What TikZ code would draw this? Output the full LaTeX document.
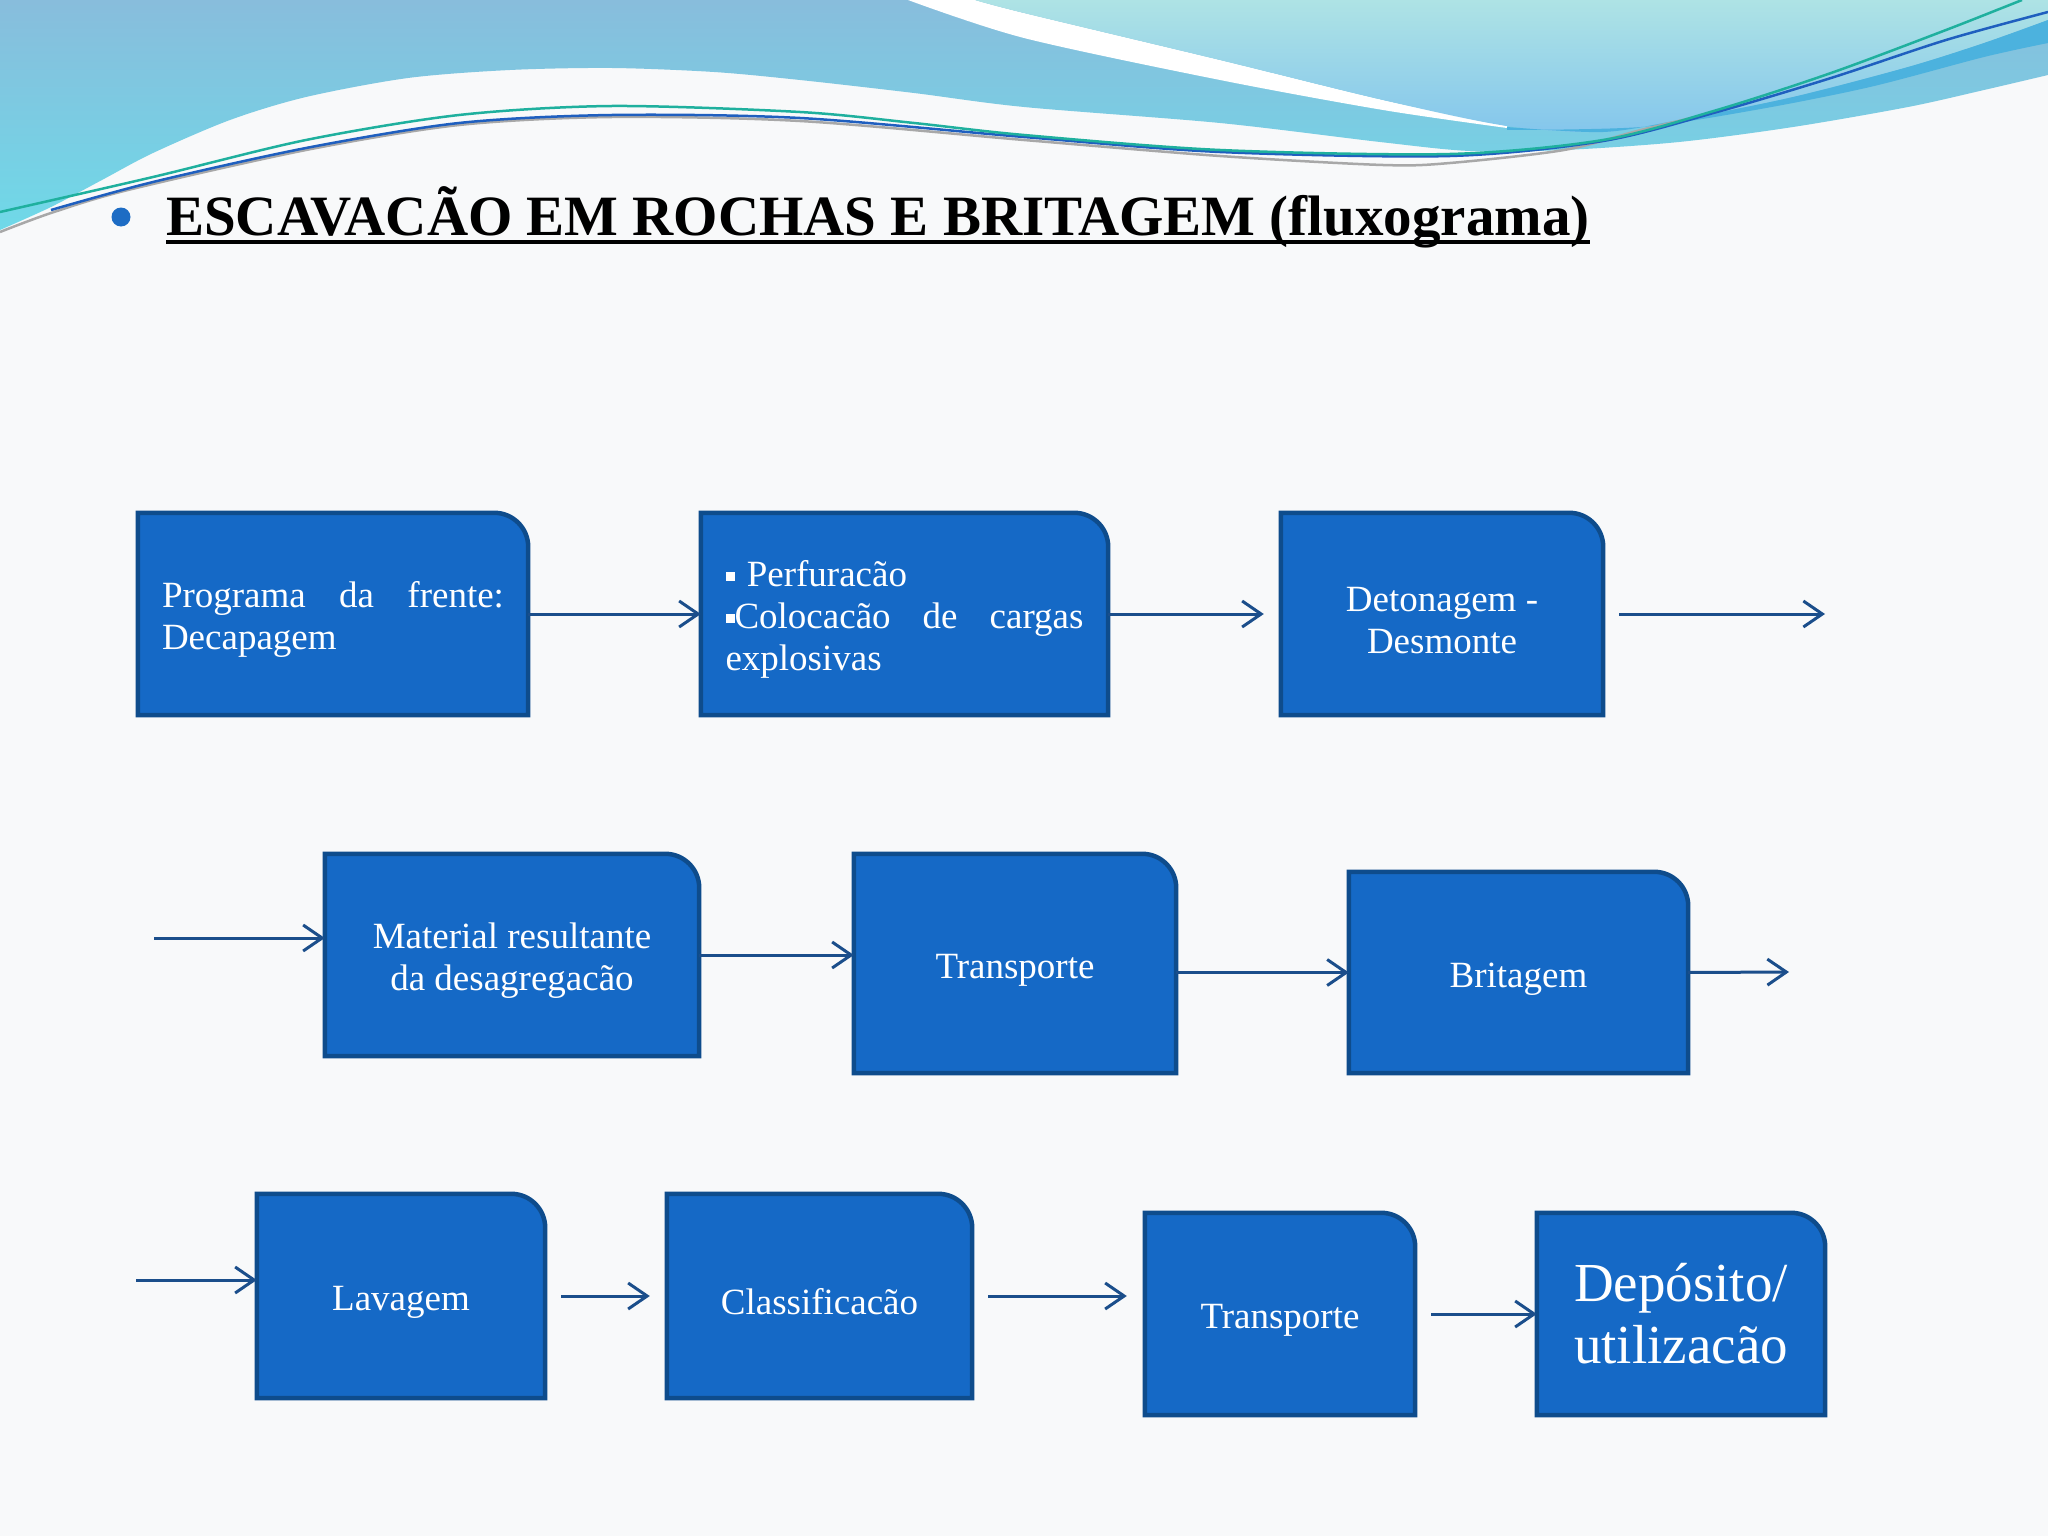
\documentclass[tikz,border=0pt]{standalone}
\usepackage{fontspec}
\setmainfont{Liberation Serif}
\usetikzlibrary{arrows.meta}
\pgfdeclarelayer{back}
\pgfdeclarelayer{shapes}
\pgfsetlayers{back,shapes,main}
\definecolor{boxfill}{HTML}{1569C6}
\definecolor{boxline}{HTML}{0E4C8C}
\definecolor{arrowc}{HTML}{1B4E8B}
\definecolor{pagebg}{HTML}{F8F9FA}
\definecolor{wavetop}{HTML}{88BDDC}
\definecolor{wavebot}{HTML}{6FD9E8}
\definecolor{paletop}{HTML}{AEE3E5}
\definecolor{palebot}{HTML}{84C6EC}
\definecolor{bandc}{HTML}{4CB2DE}
\definecolor{tealc}{HTML}{1FB09E}
\definecolor{linebl}{HTML}{1F5FBF}
\definecolor{linegr}{HTML}{A8A8A8}
\definecolor{bulletc}{HTML}{1D6CC4}
\tikzset{
  flow/.style={inner sep=0pt, text=white, font=\fontsize{37}{42}\selectfont, align=center},
  flowarrow/.style={draw=arrowc, line width=3pt, -{Straight Barb[length=19pt,width=26pt,line width=3pt]}},
  boxshape/.style={fill=boxfill, draw=boxline, line width=4.5pt, line join=miter},
  waveline/.style={line width=2.5pt},
}
\newcommand{\tstrut}{\rule{0pt}{1em}}
\newcommand{\sqbul}{\rule[6pt]{9pt}{9pt}}
\newcommand{\drawshape}[1]{%
  \begin{pgfonlayer}{shapes}
  \filldraw[boxshape] (#1.south west) -- (#1.north west) -- ([xshift=-34pt]#1.north east)
    arc[start angle=90,end angle=0,radius=34pt] -- (#1.south east) -- cycle;
  \end{pgfonlayer}}
\begin{document}
\begin{tikzpicture}[x=1pt,y=-1pt]
\useasboundingbox (0,0) rectangle (2048,1536);
\begin{pgfonlayer}{back}
\fill[pagebg] (0,0) rectangle (2048,1536);
% big blue wave
\shade[top color=wavetop, bottom color=wavebot]
  (0,0) -- (2048,0) -- plot[smooth] coordinates {(2048,75) (1984,90) (1908,107) (1793,127) (1679,142) (1564,150) (1470,151) (1380,142) (1220,123) (1024,107) (914,93) (800,80) (714,72) (612,68) (510,70) (408,78) (306,97) (230,120) (153,153) (102,180) (51,207) (0,230)} -- cycle;
% white swoosh
\fill[white] (908,0) -- plot[smooth] coordinates {(908,0) (1024,38) (1220,80) (1383,110) (1507,128)}
  -- plot[smooth] coordinates {(1507,126) (1383,100) (1220,60) (1024,13) (975,0)} -- cycle;
% pale region
\shade[top color=paletop, bottom color=palebot]
  (975,0) -- plot[smooth] coordinates {(975,0) (1024,13) (1220,60) (1383,100) (1507,126) (1603,132) (1679,120) (1793,97) (1908,67) (1984,43) (2048,20)} -- (2048,0) -- cycle;
% deeper band
\fill[bandc] plot[smooth] coordinates {(1507,127) (1603,132) (1679,120) (1793,97) (1908,67) (1984,43) (2048,20)}
  -- plot[smooth] coordinates {(2048,43) (1984,57) (1870,87) (1755,110) (1641,127) (1507,130)} -- cycle;
% thin lines
\draw[waveline, linegr] plot[smooth] coordinates {(0,232) (51,213) (128,190) (306,150) (459,125) (612,117) (800,121) (1024,140) (1220,156) (1383,165) (1450,163) (1564,150) (1641,130) (1717,112)};
\draw[waveline, linebl] plot[smooth] coordinates {(51,210) (153,182) (306,148) (459,123) (612,115) (800,118) (1024,137) (1220,152) (1450,156) (1603,141) (1717,112) (1831,78) (1946,40) (2048,12)};
\draw[waveline, tealc] plot[smooth] coordinates {(0,212) (153,177) (306,140) (459,115) (612,106) (800,112) (914,123) (1024,135) (1220,150) (1450,154) (1603,140) (1717,110) (1831,73) (1946,30) (2022,0)};
\end{pgfonlayer}

% title
\node[circle, fill=bulletc, minimum size=19pt, inner sep=0pt] (bul) at (121,217) {};
\node[anchor=base west, inner sep=0pt, font=\fontsize{57}{60}\selectfont\bfseries] (title) at (166,235) {ESCAVACÃO EM ROCHAS E BRITAGEM (fluxograma)};
\draw[line width=4pt] ([yshift=-7pt]title.base west) -- ([yshift=-7pt]title.base east);

% row 1
\node[flow, minimum width=390pt, minimum height=202pt, text width=342pt, align=left] (b1) at (333,614) {\tstrut Programa\hfill da\hfill frente:\\Decapagem};
\drawshape{b1}
\node[flow, minimum width=407pt, minimum height=202pt, text width=358pt, align=left] (b2) at (904.5,614) {\tstrut\sqbul\ Perfuracão\\\sqbul Colocacão\hfill de\hfill cargas\\explosivas};
\drawshape{b2}
\node[flow, minimum width=322pt, minimum height=202pt] (b3) at (1442,614) {\tstrut Detonagem -\\Desmonte};
\drawshape{b3}

% row 2
\node[flow, minimum width=374pt, minimum height=202pt] (b4) at (512,955) {\tstrut Material resultante\\da desagregacão};
\drawshape{b4}
\node[flow, minimum width=322pt, minimum height=219pt] (b5) at (1015,963.5) {\tstrut Transporte};
\drawshape{b5}
\node[flow, minimum width=339pt, minimum height=201pt] (b6) at (1518.5,972.5) {\tstrut Britagem};
\drawshape{b6}

% row 3
\node[flow, minimum width=288pt, minimum height=204pt] (b7) at (401,1296) {\tstrut Lavagem};
\drawshape{b7}
\node[flow, minimum width=305pt, minimum height=204pt] (b8) at (819.5,1296) {\tstrut Classificacão};
\drawshape{b8}
\node[flow, minimum width=270pt, minimum height=202pt] (b9) at (1280,1314) {\tstrut Transporte};
\drawshape{b9}
\node[flow, minimum width=288pt, minimum height=202pt, font=\fontsize{55}{62}\selectfont] (b10) at (1681,1314) {Depósito/\\utilizacão};
\drawshape{b10}

% connectors
\coordinate (e1) at (1825,614);
\coordinate (s2) at (154,938);
\coordinate (e2) at (1789,972);
\coordinate (s3) at (136,1280);
\draw[flowarrow] (b1.east) -- (b2.west);
\draw[flowarrow, shorten >=17pt] (b2.east) -- (b3.west);
\draw[flowarrow, shorten <=16pt] (b3.east) -- (e1);
\draw[flowarrow] (s2) -- (s2 -| b4.west);
\draw[flowarrow] (b4.east) -- (b4.east -| b5.west);
\draw[flowarrow] (b6.west -| b5.east) -- (b6.west);
\draw[flowarrow] (b6.east) -- (e2);
\draw[flowarrow] (s3) -- (s3 -| b7.west);
\draw[flowarrow, shorten <=16pt, shorten >=17pt] (b7.east) -- (b8.west);
\draw[flowarrow, shorten <=16pt, shorten >=18pt] (b8.east) -- (b8.east -| b9.west);
\draw[flowarrow, shorten <=16pt] (b9.east) -- (b10.west);
\end{tikzpicture}
\end{document}
